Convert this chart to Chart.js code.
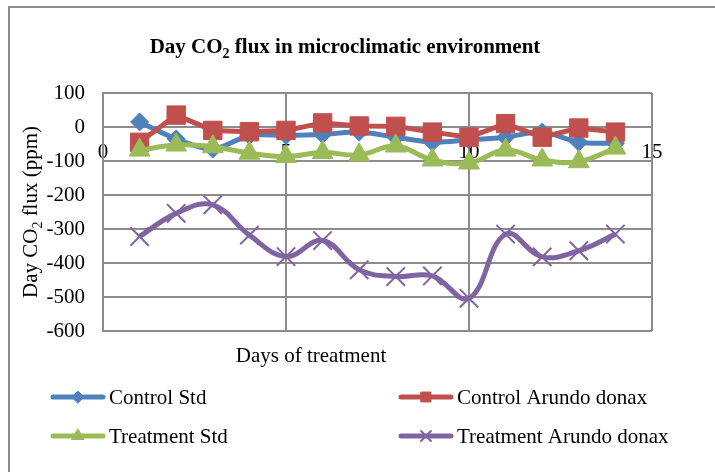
<!DOCTYPE html>
<html>
<head>
<meta charset="utf-8">
<script src="https://cdn.jsdelivr.net/npm/chart.js@4"></script>
<style>
  html, body { margin: 0; padding: 0; background: #fff; }
</style>
</head>
<body>
<canvas id="fluxChart" width="715" height="472"></canvas>
<script>
// data
const days = [1, 2, 3, 4, 5, 6, 7, 8, 9, 10, 11, 12, 13, 14];
const controlStd = [15, -35, -65, -25, -25, -22, -15, -30, -45, -38, -30, -15, -45, -48];
const controlArundo = [-45, 35, -10, -14, -10, 12, 3, 2, -15, -30, 10, -30, -3, -15];
const treatmentStd = [-68, -53, -58, -77, -87, -75, -82, -56, -97, -106, -68, -97, -102, -62];
const treatmentArundo = [-322, -254, -229, -318, -381, -334, -420, -440, -438, -504, -315, -382, -364, -315];
const xTicks = [0, 5, 10, 15];
const yTicks = [100, 0, -100, -200, -300, -400, -500, -600];

const serif = '"Liberation Serif", "Times New Roman", serif';
const gridGrey = '#8c8c8c';
const fontSize = 21;

function pts(ys) {
  return days.map((d, i) => ({ x: d, y: ys[i] }));
}

// text with a subscript "2" in it
function drawSubText(ctx, parts, x, y, size, weight) {
  const big = weight + ' ' + size + 'px ' + serif;
  const small = weight + ' ' + Math.round(size * 0.65) + 'px ' + serif;
  let total = 0;
  parts.forEach(p => {
    ctx.font = p[1] ? small : big;
    total += ctx.measureText(p[0]).width;
  });
  let cx = x - total / 2;
  ctx.textAlign = 'left';
  ctx.textBaseline = 'alphabetic';
  parts.forEach(p => {
    ctx.font = p[1] ? small : big;
    ctx.fillText(p[0], cx, p[1] ? y + size * 0.22 : y);
    cx += ctx.measureText(p[0]).width;
  });
}

const framePlugin = {
  id: 'frame',
  beforeDraw(chart) {
    const ctx = chart.ctx;
    ctx.save();
    ctx.fillStyle = '#fff';
    ctx.fillRect(0, 0, chart.width, chart.height);
    ctx.strokeStyle = gridGrey;
    ctx.lineWidth = 2;
    ctx.strokeRect(9, 7, 800, 800);
    ctx.restore();
  },
  afterDraw(chart) {
    const ctx = chart.ctx;
    ctx.save();
    ctx.fillStyle = '#000';
    drawSubText(ctx, [['Day CO', false], ['2', true], [' flux in microclimatic environment', false]], 345, 53, fontSize, 'bold');
    drawSubText(ctx, [['Days of treatment', false]], 311, 362, fontSize, 'normal');
    ctx.translate(37, 212);
    ctx.rotate(-Math.PI / 2);
    drawSubText(ctx, [['Day CO', false], ['2', true], [' flux (ppm)', false]], 0, 0, fontSize, 'normal');
    ctx.restore();
  }
};

const legendRadius = [6, 7, 7, 7];
const legendPlugin = {
  id: 'gridLegend',
  afterDraw(chart) {
    const ctx = chart.ctx;
    const slots = [[50, 397], [398, 397], [50, 436], [398, 436]];
    chart.data.datasets.forEach((ds, i) => {
      const x = slots[i][0], y = slots[i][1];
      ctx.save();
      ctx.strokeStyle = ds.borderColor;
      ctx.lineWidth = 5;
      ctx.lineCap = 'round';
      ctx.beginPath();
      ctx.moveTo(x + 3, y);
      ctx.lineTo(x + 53, y);
      ctx.stroke();
      ctx.fillStyle = ds.pointBackgroundColor;
      ctx.strokeStyle = ds.pointBorderColor;
      ctx.lineWidth = ds.pointBorderWidth;
      Chart.helpers.drawPoint(ctx, {
        pointStyle: ds.pointStyle,
        rotation: 0,
        radius: legendRadius[i],
        borderWidth: ds.pointBorderWidth
      }, x + 28, y);
      ctx.fillStyle = '#000';
      ctx.font = fontSize + 'px ' + serif;
      ctx.textBaseline = 'middle';
      ctx.textAlign = 'left';
      ctx.fillText(ds.label, x + 59, y + 1);
      ctx.restore();
    });
  }
};

const ctx = document.getElementById('fluxChart').getContext('2d');
const fluxChart = new Chart(ctx, {
  type: 'line',
  data: {
    datasets: [{
      label: 'Control Std',
      data: pts(controlStd),
      borderColor: '#4F81BD',
      pointBackgroundColor: '#4F81BD',
      pointBorderColor: '#4F81BD',
      pointBorderWidth: 1,
      pointStyle: 'rectRot',
      pointRadius: 9,
      borderWidth: 5,
      tension: 0.3,
      order: 4
    }, {
      label: 'Control Arundo donax',
      data: pts(controlArundo),
      borderColor: '#C0504D',
      pointBackgroundColor: '#C0504D',
      pointBorderColor: '#C0504D',
      pointBorderWidth: 1,
      pointStyle: 'rect',
      pointRadius: 13,
      borderWidth: 5,
      tension: 0,
      order: 3
    }, {
      label: 'Treatment Std',
      data: pts(treatmentStd),
      borderColor: '#9BBB59',
      pointBackgroundColor: '#9BBB59',
      pointBorderColor: '#9BBB59',
      pointBorderWidth: 1,
      pointStyle: 'triangle',
      pointRadius: 12,
      borderWidth: 5,
      tension: 0.4,
      order: 2
    }, {
      label: 'Treatment Arundo donax',
      data: pts(treatmentArundo),
      borderColor: '#8064A2',
      pointBackgroundColor: '#8064A2',
      pointBorderColor: '#8064A2',
      pointBorderWidth: 2,
      pointStyle: 'crossRot',
      pointRadius: 13,
      borderWidth: 5,
      tension: 0.4,
      order: 1
    }]
  },
  options: {
    responsive: false,
    animation: false,
    layout: {
      padding: { left: 0, right: 63, top: 93, bottom: 141 }
    },
    plugins: {
      legend: { display: false },
      title: { display: false },
      tooltip: { enabled: false }
    },
    scales: {
      x: {
        type: 'linear',
        position: { y: 0 },
        min: 0,
        max: 15,
        afterBuildTicks: function (scale) {
          scale.ticks = xTicks.map(v => ({ value: v }));
        },
        grid: { color: gridGrey, lineWidth: 2, drawTicks: false },
        border: { color: gridGrey, width: 2 },
        ticks: {
          color: '#000',
          padding: 13,
          maxRotation: 0,
          font: { family: serif, size: fontSize }
        }
      },
      y: {
        min: -600,
        max: 100,
        afterBuildTicks: function (scale) {
          scale.ticks = yTicks.map(v => ({ value: v }));
        },
        afterFit: function (scale) {
          scale.width = 103;
        },
        grid: { color: gridGrey, lineWidth: 2, drawTicks: false },
        border: { color: gridGrey, width: 2 },
        ticks: {
          color: '#000',
          padding: 18,
          font: { family: serif, size: fontSize }
        }
      }
    }
  },
  plugins: [framePlugin, legendPlugin]
});
</script>
</body>
</html>
